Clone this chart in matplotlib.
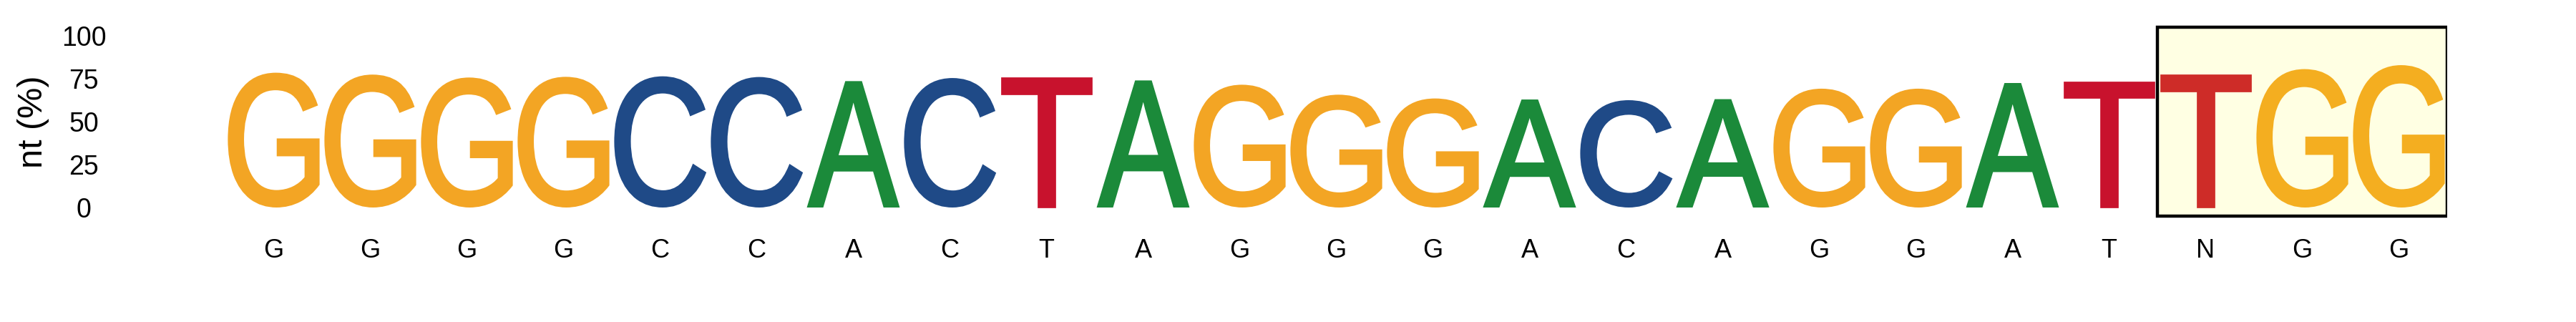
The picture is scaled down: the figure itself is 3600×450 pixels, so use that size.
import matplotlib
matplotlib.use('Agg')
import matplotlib.pyplot as plt
from matplotlib.textpath import TextPath
from matplotlib.patches import PathPatch, Rectangle
from matplotlib.font_manager import FontProperties
from matplotlib.transforms import Affine2D

# data
letters = ['G', 'G', 'G', 'G', 'C', 'C', 'A', 'C', 'T', 'A', 'G', 'G',
           'G', 'A', 'C', 'A', 'G', 'G', 'A', 'T', 'T', 'G', 'G']
heights = [78.5, 77.4, 75.7, 76.1, 76.4, 76.0, 73.6, 75.4, 75.8, 74.0, 71.5, 65.7,
           63.5, 62.9, 62.5, 63.1, 69.2, 69.2, 72.5, 73.6, 77.8, 80.6, 82.9]
seq_labels = ['G', 'G', 'G', 'G', 'C', 'C', 'A', 'C', 'T', 'A', 'G', 'G',
              'G', 'A', 'C', 'A', 'G', 'G', 'A', 'T', 'N', 'G', 'G']
pam_start, pam_end = 21, 23
yticks = [0, 25, 50, 75, 100]

colors = {'A': '#1b8a3a', 'C': '#1f4a87', 'G': '#f3a524', 'T': '#c8122d'}

plt.rcParams['font.family'] = ['Liberation Sans', 'DejaVu Sans']

fig = plt.figure(figsize=(36, 4.5), dpi=100)
ymin, ymax = -8, 108
px_per_unit = 2.4
bottom_px = 160 + ymin * px_per_unit
height_px = (ymax - ymin) * px_per_unit
ax = fig.add_axes([315 / 3600, bottom_px / 450, 3105 / 3600, height_px / 450])

# regular glyphs, thickened a little with an outline of the same colour
fp = FontProperties(family='Liberation Sans', weight='normal')
width = 0.95
lw = 3.4
half_px = lw * 100 / 72 / 2
dx = half_px / (3105 / 23)
dy = half_px / px_per_unit
for i, (let, h) in enumerate(zip(letters, heights)):
    x = i + 1
    tp = TextPath((0, 0), let, size=1, prop=fp)
    bb = tp.get_extents()
    tr = (Affine2D().translate(-bb.x0, -bb.y0)
          .scale((width - 2 * dx) / bb.width, (h - 2 * dy) / bb.height)
          .translate(x - width / 2 + dx, dy))
    ax.add_patch(PathPatch(tr.transform_path(tp), facecolor=colors[let],
                           edgecolor=colors[let], linewidth=lw,
                           joinstyle='miter', zorder=2))

# PAM highlight box
ax.add_patch(Rectangle((pam_start - 0.5, -5), pam_end - pam_start + 1, 110,
                       facecolor='yellow', alpha=0.11, edgecolor='none', zorder=3))
ax.add_patch(Rectangle((pam_start - 0.5, -5), pam_end - pam_start + 1, 110,
                       facecolor='none', edgecolor='black', linewidth=3.2, zorder=4))

ax.set_xlim(0.5, len(letters) + 0.5)
ax.set_ylim(ymin, ymax)
for s in ax.spines.values():
    s.set_visible(False)

ax.set_xticks(range(1, len(letters) + 1))
ax.set_xticklabels(seq_labels, fontsize=26)
ax.set_yticks(yticks)
ax.set_yticklabels([str(t) for t in yticks], fontsize=27, ha='center')
ax.tick_params(axis='x', length=0, pad=17)
ax.tick_params(axis='y', length=0, pad=142.6)

ax.set_ylabel('nt (%)', fontsize=35, va='center')
ax.yaxis.set_label_coords((47 - 315) / 3105, (280 - bottom_px) / height_px)

fig.savefig('out.png', dpi=100)
